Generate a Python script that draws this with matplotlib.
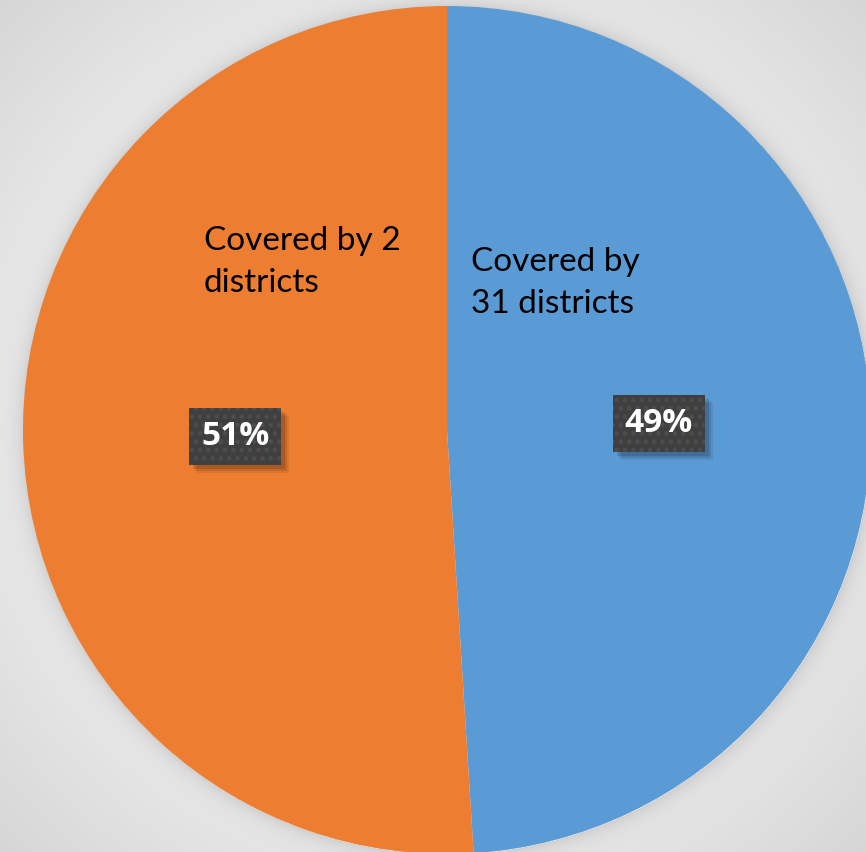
import numpy as np
import matplotlib
matplotlib.use('Agg')
from matplotlib import pyplot as plt
from matplotlib.patches import Rectangle

# district coverage split
labels = ['Covered by\n31 districts', 'Covered by 2\ndistricts']
shares = [49, 51]
colors = ['#5B9BD5', '#ED7D31']

W, H = 866, 852
fig = plt.figure(figsize=(W / 100, H / 100), dpi=100)

# grey backdrop with a soft halo around the pie
bg = fig.add_axes([0, 0, 1, 1])
bg.set_axis_off()
yy, xx = np.mgrid[0:H, 0:W]
rc = np.hypot(xx - W / 2, yy - H / 2)
val = 236 - 22 * np.clip((rc - 380) / (607 - 380), 0, 1)
d = np.hypot(xx - 447, yy - 430) - 424
halo = 24 * np.exp(-np.clip(d, 0, None) / 9.0) * (d > 0)
val = (val - halo) / 255.0
bg.imshow(np.dstack([val, val, val]), extent=[0, 1, 0, 1], aspect='auto')
bg.set_xlim(0, 1)
bg.set_ylim(0, 1)

ax = fig.add_axes([0, 0, 1, 1])
ax.set_axis_off()
ax.patch.set_alpha(0)

pct_font = dict(fontsize=24, fontweight='bold', family='Open Sans')
wedges, texts, autotexts = ax.pie(
    shares, colors=colors, startangle=90, counterclock=False,
    autopct='%d%%', pctdistance=0.5, radius=1.0,
    wedgeprops=dict(linewidth=0),
    textprops=dict(color='white', **pct_font))

ax.set_xlim(-447 / 424, (W - 447) / 424)
ax.set_ylim(-(H - 430) / 424, 430 / 424)
ax.set_aspect('equal')

plt.rcParams['hatch.linewidth'] = 2.0
for t in autotexts:
    t.set_bbox(dict(boxstyle='square,pad=0.36', fc='#3f3f3f', ec='#4d4d4d',
                    lw=0, hatch='..'))
    t.set_zorder(5)

# soft drop shadow under each value box, in pixel units
fig.canvas.draw()
for t in autotexts:
    bb = t.get_bbox_patch().get_window_extent()
    for k, a in [(8, 0.08), (6, 0.10), (4, 0.13)]:
        ax.add_patch(Rectangle((bb.x0 + k, bb.y0 - k), bb.width, bb.height,
                               transform=None, fc='black', ec='none',
                               alpha=a, zorder=4))

# category labels sit inside their slices
ax.text(471 / 424 - 447 / 424, (430 - 283) / 424, labels[0], ha='left', va='center',
        fontsize=24, family='Lato', color='black', linespacing=1.5)
ax.text(204 / 424 - 447 / 424, (430 - 262) / 424, labels[1], ha='left', va='center',
        fontsize=24, family='Lato', color='black', linespacing=1.5)

fig.savefig('out.png', dpi=100)
